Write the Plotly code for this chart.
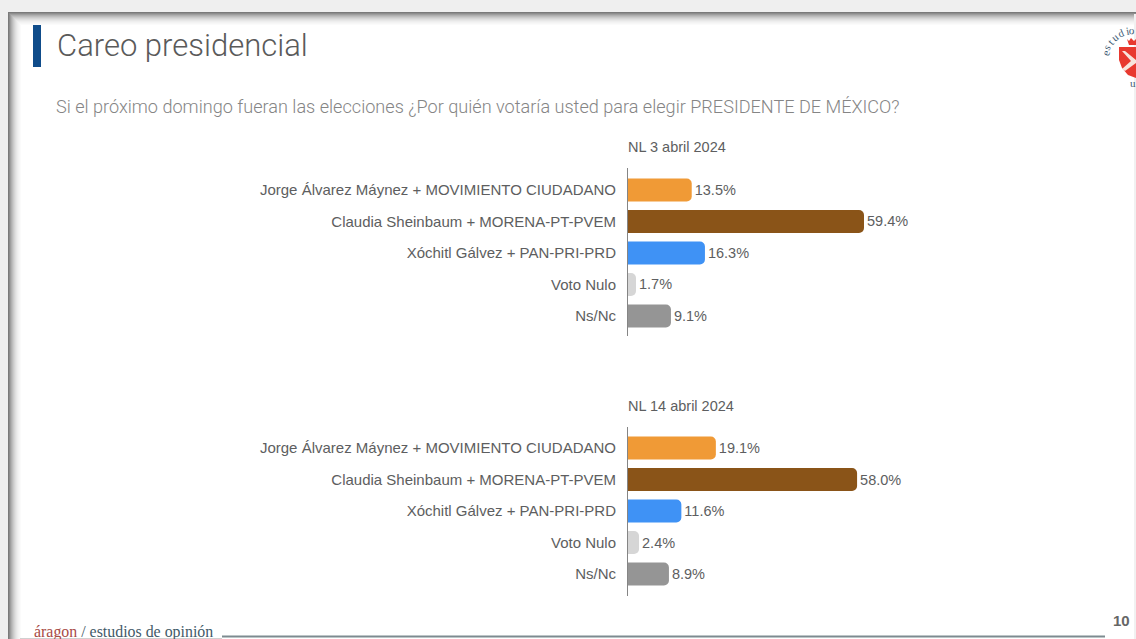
import plotly.graph_objects as go

W, H = 1136, 639

categories = [
    "Jorge Álvarez Máynez + MOVIMIENTO CIUDADANO",
    "Claudia Sheinbaum + MORENA-PT-PVEM",
    "Xóchitl Gálvez + PAN-PRI-PRD",
    "Voto Nulo",
    "Ns/Nc",
]
# Percentages printed next to the bars
values_apr3 = [13.5, 59.4, 16.3, 1.7, 9.1]
values_apr14 = [19.1, 58.0, 11.6, 2.4, 8.9]
# Bar lengths as drawn in the source: its brown bar is shorter than its label implies
drawn_apr3 = [13.5, 50.0, 16.3, 1.7, 9.1]
drawn_apr14 = [19.1, 49.8, 11.6, 2.4, 8.9]
bar_colors = ["#f09a36", "#8a5418", "#3f92f5", "#d6d6d6", "#959595"]

TXT = "#5d5e60"
SANS = "Liberation Sans"


def px(x):
    return x / W


def py(y):
    return 1 - y / H


def rect(x0, y0, x1, y1, color, opacity=1):
    return dict(type="rect", xref="paper", yref="paper", x0=px(x0), x1=px(x1), y0=py(y0), y1=py(y1),
                fillcolor=color, opacity=opacity, line_width=0, layer="below")


def path(points, color):
    d = "M" + " L".join(f"{px(a):.5f},{py(b):.5f}" for a, b in points) + " Z"
    return dict(type="path", xref="paper", yref="paper", path=d, fillcolor=color, line_width=0, layer="below")


def label(x, y, text, size, color, family=SANS, anchor="left", angle=0, weight=None):
    font = dict(family=family, size=size, color=color)
    if weight:
        font["weight"] = weight
    return dict(xref="paper", yref="paper", x=px(x), y=py(y), text=text, showarrow=False, xanchor=anchor,
                yanchor="middle", font=font, textangle=angle, borderpad=0, borderwidth=0)


shapes = [rect(8, 12, W, H, "#ffffff")]
# Soft inner shadow of the slide frame
top_shades = ["#7a7a7a", "#8c8c8c", "#9e9e9e", "#afafaf", "#bdbdbd", "#cacaca", "#d5d5d5", "#dfdfdf",
              "#e7e7e7", "#eeeeee", "#f3f3f3", "#f7f7f7", "#fbfbfb"]
for i, c in enumerate(top_shades):
    shapes.append(rect(8 + i, 12 + i, W, 13 + i, c))
    shapes.append(rect(8 + i, 12 + i, 9 + i, H, c))
shapes += [
    rect(20, 638, 222, H, "#d0d0d0"),
    rect(1134, 14, W, H, "#f1f1f1"),
    rect(33, 25, 41, 67, "#0f4c8a"),
    rect(222, 635.5, 1105, 637.5, "#7d8b90"),
    # Logo: crown and shield, cropped by the page edge
    path([(1127, 39), (1129, 41), (1131, 38), (1134, 41), (1136, 39), (1136, 45), (1129, 45)], "#e8392f"),
    path([(1119, 47), (1136, 47), (1136, 78), (1128, 75), (1122, 68), (1119, 60)], "#e8392f"),
    path([(1122, 51), (1125, 51), (1136, 60), (1136, 63), (1125, 71), (1122, 69), (1131, 61)], "#f7e4dc"),
]

annotations = [
    label(57, 45, "Careo presidencial", 31, "#5a5a5a", "Roboto", weight=300),
    label(56, 106.5, "Si el próximo domingo fueran las elecciones ¿Por quién votaría usted para elegir PRESIDENTE DE MÉXICO?",
          18.1, "#858585", "Roboto", weight=300),
    label(628, 147, "NL 3 abril 2024", 14.5, TXT),
    label(628, 406, "NL 14 abril 2024", 14.5, TXT),
    label(34, 632, "<span style='color:#a84a45'>áragon</span> / estudios de opinión", 15.9, "#3f5a68", "Liberation Serif"),
    label(1113, 620, "<b>10</b>", 15, "#666666"),
]
logo_letters = [("e", 1106, 53.5, -72), ("s", 1107, 47.5, -60), ("t", 1110.5, 42, -50), ("u", 1115, 37, -38),
                ("d", 1121, 33, -22), ("i", 1127, 30.5, -10), ("o", 1132, 29.5, 2), ("u", 1133, 83, 0)]
for ch, x, y, a in logo_letters:
    annotations.append(label(x, y, ch, 11, "#3d5a73", "Liberation Serif", "center", a))

fig = go.Figure()
fig.add_bar(y=categories, x=drawn_apr3, orientation="h", marker=dict(color=bar_colors, cornerradius=5, line_width=0),
            text=[f"{v:.1f}%" for v in values_apr3], textposition="outside", cliponaxis=False,
            textfont=dict(family=SANS, size=14.5, color=TXT), hoverinfo="skip", xaxis="x", yaxis="y")
fig.add_bar(y=categories, x=drawn_apr14, orientation="h", marker=dict(color=bar_colors, cornerradius=5, line_width=0),
            text=[f"{v:.1f}%" for v in values_apr14], textposition="outside", cliponaxis=False,
            textfont=dict(family=SANS, size=14.5, color=TXT), hoverinfo="skip", xaxis="x2", yaxis="y2")


def xaxis(anchor, scale):
    return dict(domain=[px(628), px(1028)], range=[0, 400 / scale], anchor=anchor, visible=False, fixedrange=True)


def yaxis(anchor, top, bottom, rng):
    return dict(domain=[py(bottom), py(top)], range=rng, anchor=anchor, type="category", showline=True,
                linecolor="#858585", linewidth=1, ticks="outside", ticklen=8, tickcolor="rgba(0,0,0,0)",
                showgrid=False, zeroline=False, fixedrange=True,
                tickfont=dict(family=SANS, size=15, color=TXT))


fig.update_layout(
    width=W, height=H, margin=dict(l=0, r=0, t=0, b=0), autosize=False,
    paper_bgcolor="#efefef", plot_bgcolor="rgba(0,0,0,0)", showlegend=False, bargap=0.27,
    xaxis=xaxis("y", 4.72), xaxis2=xaxis("y2", 4.6),
    yaxis=yaxis("x", 168, 336, [4.635, -0.698]),
    yaxis2=yaxis("x2", 427, 596, [4.698, -0.667]),
    shapes=shapes, annotations=annotations,
)
fig.write_html("out.html", config=dict(displayModeBar=False),
               post_script="document.body.style.margin='0';document.body.style.overflow='hidden';")
